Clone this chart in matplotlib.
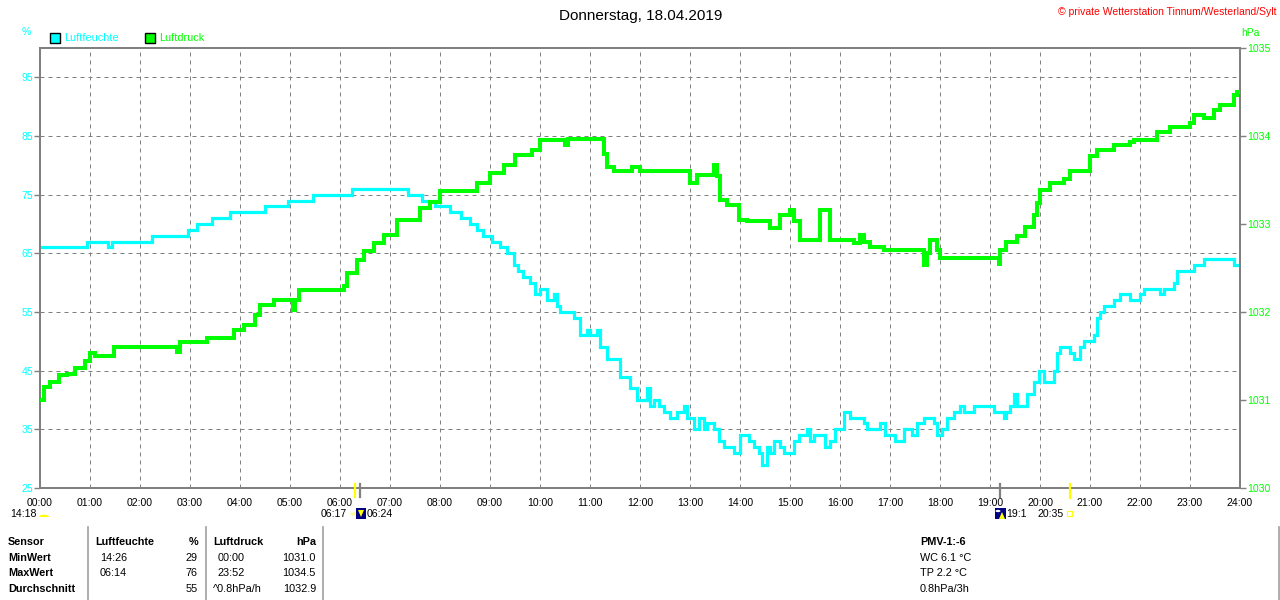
import matplotlib
matplotlib.use("Agg")
import matplotlib.pyplot as plt
from matplotlib.patches import Rectangle, Wedge, Circle, Polygon
from matplotlib.lines import Line2D

plt.rcParams['font.family'] = ['Liberation Sans', 'DejaVu Sans']

# ---------------- data ----------------
title = "Donnerstag, 18.04.2019"
copyright_text = "\u00a9 private Wetterstation Tinnum/Westerland/Sylt"
series_names = ["Luftfeuchte", "Luftdruck"]
hour_labels = ["%02d:00" % h for h in range(25)]
hum_ticks = [25, 35, 45, 55, 65, 75, 85, 95]
pres_ticks = [1030, 1031, 1032, 1033, 1034, 1035]

hum_t = [0.0, 0.94, 1.36, 1.44, 2.24, 2.96, 3.14, 3.44, 3.8, 4.5, 4.96, 5.46, 6.24,
         7.36, 7.64, 7.9, 8.2, 8.42, 8.6, 8.74, 8.86, 9.04, 9.2, 9.33, 9.47, 9.55,
         9.65, 9.8, 9.9, 10.0, 10.13, 10.27, 10.33, 10.4, 10.67, 10.8, 10.93, 11.0,
         11.13, 11.2, 11.33, 11.47, 11.6, 11.8, 11.93, 12.0, 12.13, 12.2, 12.27,
         12.37, 12.47, 12.6, 12.73, 12.87, 12.93, 13.07, 13.17, 13.27, 13.33, 13.47,
         13.57, 13.67, 13.87, 14.0, 14.17, 14.27, 14.37, 14.43, 14.53, 14.6, 14.67,
         14.8, 14.87, 15.07, 15.17, 15.27, 15.33, 15.4, 15.47, 15.6, 15.7, 15.8,
         15.9, 16.0, 16.07, 16.2, 16.47, 16.53, 16.73, 16.8, 16.9, 17.1, 17.27,
         17.43, 17.53, 17.67, 17.87, 17.93, 18.03, 18.13, 18.27, 18.4, 18.47, 18.6,
         18.67, 18.73, 19.07, 19.27, 19.33, 19.4, 19.47, 19.53, 19.73, 19.87, 19.97,
         20.07, 20.27, 20.33, 20.4, 20.6, 20.67, 20.8, 20.87, 21.07, 21.13, 21.2,
         21.27, 21.47, 21.6, 21.8, 22.0, 22.07, 22.4, 22.47, 22.67, 22.73, 23.07,
         23.27, 23.87, 24.0]
hum_v = [66, 67, 66, 67, 68, 69, 70, 71, 72, 73, 74, 75, 76,
         75, 74, 73, 72, 71, 70, 69, 68, 67, 66, 65, 63, 62,
         61, 60, 58, 59, 57, 58, 56, 55, 54, 51, 52, 51,
         52, 49, 47, 47, 44, 42, 40, 40, 42, 39, 40,
         39, 38, 37, 38, 39, 37, 35, 37, 35, 36, 35,
         33, 32, 31, 34, 33, 32, 31, 29, 32, 31, 33,
         32, 31, 33, 34, 34, 35, 33, 34, 34, 32, 33,
         35, 35, 38, 37, 36, 35, 35, 36, 34, 33, 35,
         34, 36, 37, 36, 34, 35, 37, 38, 39, 38, 38,
         39, 39, 38, 37, 38, 39, 41, 39, 41, 43, 45,
         43, 45, 48, 49, 48, 47, 49, 50, 51, 54, 55,
         56, 57, 58, 57, 58, 59, 58, 59, 60, 62, 63,
         64, 63, 63]

pres_t = [0.0, 0.07, 0.2, 0.37, 0.53, 0.7, 0.9, 1.0, 1.1, 1.47, 2.73, 2.8, 3.33,
          3.87, 4.07, 4.3, 4.4, 4.67, 5.05, 5.1, 5.17, 6.07, 6.13, 6.33, 6.47,
          6.67, 6.87, 7.13, 7.6, 7.8, 8.0, 8.73, 9.0, 9.27, 9.5, 9.83, 10.0,
          10.5, 10.55, 11.27, 11.33, 11.47, 11.83, 12.0, 13.0, 13.13, 13.47, 13.53,
          13.6, 13.73, 13.97, 14.13, 14.6, 14.8, 15.0, 15.07, 15.2, 15.6, 15.8,
          16.27, 16.4, 16.47, 16.6, 16.87, 17.67, 17.73, 17.8, 17.93, 18.0, 19.17,
          19.2, 19.33, 19.53, 19.7, 19.87, 19.93, 20.0, 20.2, 20.47, 20.6, 21.0,
          21.13, 21.47, 21.8, 21.87, 22.33, 22.6, 23.0, 23.07, 23.27, 23.47, 23.6,
          23.87, 23.93, 24.0]
pres_v = [1031.0, 1031.15, 1031.21, 1031.28, 1031.3, 1031.36, 1031.44, 1031.53, 1031.5,
          1031.6, 1031.55, 1031.66, 1031.7, 1031.8, 1031.85, 1031.97, 1032.08, 1032.14,
          1032.02, 1032.14, 1032.25, 1032.29, 1032.44, 1032.59, 1032.69, 1032.78,
          1032.88, 1033.05, 1033.18, 1033.25, 1033.37, 1033.47, 1033.58, 1033.67,
          1033.78, 1033.84, 1033.95, 1033.9, 1033.97, 1033.8, 1033.65, 1033.6, 1033.65,
          1033.6, 1033.47, 1033.56, 1033.67, 1033.55, 1033.27, 1033.22, 1033.05,
          1033.03, 1032.95, 1033.1, 1033.16, 1033.03, 1032.82, 1033.16, 1032.82,
          1032.78, 1032.87, 1032.8, 1032.74, 1032.7, 1032.53, 1032.67, 1032.82,
          1032.7, 1032.61, 1032.55, 1032.7, 1032.79, 1032.86, 1032.97, 1033.1,
          1033.24, 1033.39, 1033.47, 1033.51, 1033.6, 1033.77, 1033.84, 1033.9,
          1033.93, 1033.95, 1034.05, 1034.1, 1034.15, 1034.24, 1034.2, 1034.3,
          1034.35, 1034.47, 1034.5, 1034.5]

table_header = ["Sensor", "Luftfeuchte", "%", "Luftdruck", "hPa"]
table_rows = ["MinWert", "MaxWert", "Durchschnitt"]
hum_time = ["14:26", "06:14", ""]
hum_val = ["29", "76", "55"]
pres_time = ["00:00", "23:52", "^0.8hPa/h"]
pres_val = ["1031.0", "1034.5", "1032.9"]
extra_lines = ["PMV-1:-6", "WC 6.1 \u00b0C", "TP 2.2 \u00b0C", "0.8hPa/3h"]

# ---------------- figure ----------------
W, H = 1280, 600
fig = plt.figure(figsize=(W / 100, H / 100), dpi=100)
fig.patch.set_facecolor("white")

def fx(x):
    return x / W

def fy(y):
    return 1 - y / H

CYAN = "#00FFFF"
GREEN = "#00FF00"
GRAY = "#808080"

ax = fig.add_axes([fx(40), fy(488), fx(1240) - fx(40), fy(48) - fy(488)])
ax2 = ax.twinx()

ax.set_xlim(0, 24)
ax.set_ylim(25, 100)
ax2.set_ylim(1030, 1035)

ax.set_xticks(range(25))
ax.set_xticklabels(hour_labels)
ax.set_yticks(hum_ticks)
ax.set_yticklabels([str(v) for v in hum_ticks])
ax2.set_yticks(pres_ticks)
ax2.set_yticklabels([str(v) for v in pres_ticks])

for a in (ax, ax2):
    for s in a.spines.values():
        s.set_color(GRAY)
        s.set_linewidth(1.4)

ax.tick_params(axis="x", length=0, pad=7, labelsize=7.6, colors="black")
ax.tick_params(axis="y", length=4, width=1, color=GRAY, pad=1, labelsize=7.6, labelcolor=CYAN)
ax2.tick_params(axis="y", length=4, width=1, color=GRAY, pad=1, labelsize=7.6, labelcolor=GREEN)

for h in range(1, 24):
    ax.axvline(h, color=GRAY, lw=0.72, ls=(0, (4, 4)), zorder=1)
for v in hum_ticks[1:]:
    ax.axhline(v, color=GRAY, lw=0.72, ls=(0, (4, 4)), zorder=1)

ax.plot(hum_t, hum_v, color=CYAN, lw=2.3, drawstyle="steps-post", zorder=3,
        solid_joinstyle="miter")
ax2.plot(pres_t, pres_v, color=GREEN, lw=2.9, drawstyle="steps-post", zorder=3,
         solid_joinstyle="miter")

# ---------------- texts ----------------
fig.text(fx(641), fy(16), title, ha="center", va="center", fontsize=11, color="black")
fig.text(fx(1277), fy(12), copyright_text, ha="right", va="center", fontsize=7.5, color="red")
fig.text(fx(26), fy(32), "%", ha="center", va="center", fontsize=7.5, color=CYAN)
fig.text(fx(1250), fy(33), "hPa", ha="center", va="center", fontsize=7.5, color=GREEN)

# legend
fig.add_artist(Rectangle((fx(50), fy(43)), fx(10), fy(33) - fy(43), transform=fig.transFigure,
                         facecolor=CYAN, edgecolor="black", lw=1))
fig.text(fx(64), fy(38), series_names[0], ha="left", va="center", fontsize=7.8, color=CYAN)
fig.add_artist(Rectangle((fx(145), fy(43)), fx(10), fy(33) - fy(43), transform=fig.transFigure,
                         facecolor=GREEN, edgecolor="black", lw=1))
fig.text(fx(159), fy(38), series_names[1], ha="left", va="center", fontsize=7.8, color=GREEN)

# sun / moon markers below axis
def vline(x, y0, y1, color, lw=1.6):
    fig.add_artist(Line2D([fx(x), fx(x)], [fy(y0), fy(y1)], transform=fig.transFigure,
                          color=color, lw=lw))

vline(355, 484, 497, "#FFFF00")
vline(360, 484, 497, GRAY)
vline(1000, 484, 497, GRAY)
vline(1070, 484, 498, "#FFFF00")

fs_small = 7.6
fig.text(fx(10), fy(514), "14:18", ha="left", va="center", fontsize=fs_small)
fig.add_artist(Wedge((fx(44), fy(517)), fx(5), 0, 180, transform=fig.transFigure,
                     facecolor="#FFFF00", edgecolor="none"))
fig.text(fx(347), fy(514), "06:17", ha="right", va="center", fontsize=fs_small)
fig.add_artist(Circle((fx(354), fy(514)), fx(4), transform=fig.transFigure,
                      facecolor="#FFFFA0", edgecolor="none"))
fig.add_artist(Rectangle((fx(356), fy(519)), fx(10), fy(508) - fy(519), transform=fig.transFigure,
                         facecolor="#000080", edgecolor="none"))
fig.add_artist(Polygon([(fx(358), fy(510)), (fx(364), fy(510)), (fx(361), fy(517))],
                       closed=True, transform=fig.transFigure, facecolor="#FFFF00", edgecolor="none"))
fig.text(fx(367), fy(514), "06:24", ha="left", va="center", fontsize=fs_small)

fig.add_artist(Rectangle((fx(995), fy(519)), fx(11), fy(508) - fy(519), transform=fig.transFigure,
                         facecolor="#000080", edgecolor="none"))
fig.add_artist(Circle((fx(998), fy(511)), fx(2.5), transform=fig.transFigure,
                      facecolor="white", edgecolor="none"))
fig.add_artist(Polygon([(fx(999), fy(519)), (fx(1005), fy(519)), (fx(1002), fy(512))],
                       closed=True, transform=fig.transFigure, facecolor="#FFFF00", edgecolor="none"))
fig.text(fx(1006), fy(514), "19:1", ha="left", va="center", fontsize=fs_small)
fig.text(fx(1064), fy(514), "20:35", ha="right", va="center", fontsize=fs_small)
fig.add_artist(Rectangle((fx(1067), fy(516)), fx(5), fy(511) - fy(516), transform=fig.transFigure,
                         facecolor="none", edgecolor="#FFFF00", lw=0.8))

# table
for x in (88, 206, 323, 1279):
    vline(x, 527, 600, "#A0A0A0", lw=1.2)

row_y = [542, 558, 573, 589]
fs_t = 7.8
fig.text(fx(8), fy(row_y[0]), table_header[0], ha="left", va="center", fontsize=fs_t, weight="bold")
fig.text(fx(95), fy(row_y[0]), table_header[1], ha="left", va="center", fontsize=fs_t, weight="bold")
fig.text(fx(198), fy(row_y[0]), table_header[2], ha="right", va="center", fontsize=fs_t, weight="bold")
fig.text(fx(213), fy(row_y[0]), table_header[3], ha="left", va="center", fontsize=fs_t, weight="bold")
fig.text(fx(316), fy(row_y[0]), table_header[4], ha="right", va="center", fontsize=fs_t, weight="bold")
for i, name in enumerate(table_rows):
    y = row_y[i + 1]
    fig.text(fx(8), fy(y), name, ha="left", va="center", fontsize=fs_t, weight="bold")
    fig.text(fx(100), fy(y), hum_time[i], ha="left", va="center", fontsize=fs_t)
    fig.text(fx(198), fy(y), hum_val[i], ha="right", va="center", fontsize=fs_t)
    px = 213 if pres_time[i].startswith("^") else 218
    fig.text(fx(px), fy(y), pres_time[i], ha="left", va="center", fontsize=fs_t)
    fig.text(fx(316), fy(y), pres_val[i], ha="right", va="center", fontsize=fs_t)

for i, line in enumerate(extra_lines):
    fig.text(fx(920), fy(row_y[i]), line, ha="left", va="center", fontsize=fs_t,
             weight="bold" if i == 0 else "normal")

fig.savefig("out.png", dpi=100, facecolor="white")
